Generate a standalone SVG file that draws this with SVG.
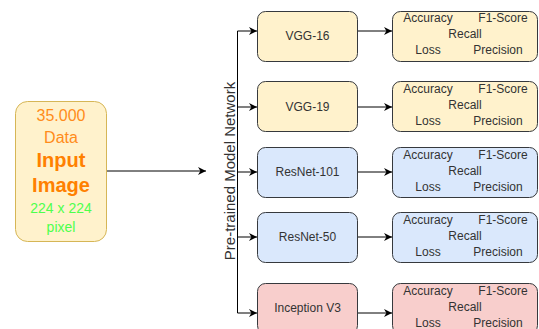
<svg xmlns="http://www.w3.org/2000/svg" width="539" height="329" viewBox="0 0 539 329">
<style>
.t{font-family:"Liberation Sans",Arial,sans-serif;fill:#333333;font-size:12px;text-anchor:middle;dominant-baseline:central}
.y{fill:#fff2cc;stroke:#d6b656;stroke-width:1}
.b{fill:#dae8fc;stroke:#36393d;stroke-width:1}
.yy{fill:#fff2cc;stroke:#36393d;stroke-width:1}
.r{fill:#f8cecc;stroke:#36393d;stroke-width:1}
.e{fill:none;stroke:#000;stroke-width:1;marker-end:url(#a)}
</style>
<defs>
<marker id="a" viewBox="0 0 10 10" refX="10" refY="5" markerWidth="8" markerHeight="8" markerUnits="userSpaceOnUse" orient="auto">
<path d="M0,0 L10,5 L0,10 L3,5 Z" fill="#000"/>
</marker>
</defs>
<g id="connectors">
<path class="e" d="M107,171 H206"/>
<path d="M237.5,31 V313" fill="none" stroke="#000"/>
<path class="e" d="M237.5,31 H257"/>
<path class="e" d="M237.5,107 H257"/>
<path class="e" d="M237.5,172 H257"/>
<path class="e" d="M237.5,237 H257"/>
<path class="e" d="M237.5,313 H257"/>
<path class="e" d="M358,31 H392"/>
<path class="e" d="M358,107 H392"/>
<path class="e" d="M358,172 H392"/>
<path class="e" d="M358,237 H392"/>
<path class="e" d="M358,313 H392"/>
</g>
<g id="input">
<rect class="y" x="15.5" y="101.5" width="91" height="140" rx="12"/>
<text x="61" y="115" style="font-family:'Liberation Sans',Arial,sans-serif;font-size:16px;fill:#ff8c1a;text-anchor:middle;dominant-baseline:central">35.000</text>
<text x="61" y="137" style="font-family:'Liberation Sans',Arial,sans-serif;font-size:16px;fill:#ff8c1a;text-anchor:middle;dominant-baseline:central">Data</text>
<text x="61" y="160" style="font-family:'Liberation Sans',Arial,sans-serif;font-size:20px;font-weight:bold;fill:#ff8000;text-anchor:middle;dominant-baseline:central">Input</text>
<text x="61" y="185" style="font-family:'Liberation Sans',Arial,sans-serif;font-size:20px;font-weight:bold;fill:#ff8000;text-anchor:middle;dominant-baseline:central">Image</text>
<text x="61" y="208" style="font-family:'Liberation Sans',Arial,sans-serif;font-size:14px;fill:#4dff4d;text-anchor:middle;dominant-baseline:central">224 x 224</text>
<text x="61" y="227" style="font-family:'Liberation Sans',Arial,sans-serif;font-size:14px;fill:#4dff4d;text-anchor:middle;dominant-baseline:central">pixel</text>
</g>
<g id="label">
<text class="t" transform="translate(229,171) rotate(-90)" style="font-size:15px">Pre-trained Model Network</text>
</g>
<g id="vgg16">
<rect class="yy" x="257.5" y="11.5" width="100" height="50" rx="8"/>
<text class="t" x="307.5" y="36">VGG-16</text>
</g>
<g id="vgg19">
<rect class="yy" x="257.5" y="81.5" width="100" height="50" rx="8"/>
<text class="t" x="307.5" y="106.5">VGG-19</text>
</g>
<g id="resnet101">
<rect class="b" x="257.5" y="147.5" width="100" height="50" rx="8"/>
<text class="t" x="307.5" y="172">ResNet-101</text>
</g>
<g id="resnet50">
<rect class="b" x="257.5" y="212.5" width="100" height="50" rx="8"/>
<text class="t" x="307.5" y="237">ResNet-50</text>
</g>
<g id="inception">
<rect class="r" x="257.5" y="283.5" width="100" height="50" rx="8"/>
<text class="t" x="307.5" y="308">Inception V3</text>
</g>
<g id="m1">
<rect class="yy" x="392.5" y="11.5" width="145" height="50" rx="8"/>
<text class="t" x="428" y="18">Accuracy</text><text class="t" x="503" y="18">F1-Score</text>
<text class="t" x="465" y="34">Recall</text>
<text class="t" x="428" y="50">Loss</text><text class="t" x="498" y="50">Precision</text>
</g>
<g id="m2">
<rect class="yy" x="392.5" y="81.5" width="145" height="50" rx="8"/>
<text class="t" x="428" y="89">Accuracy</text><text class="t" x="503" y="89">F1-Score</text>
<text class="t" x="465" y="105">Recall</text>
<text class="t" x="428" y="121">Loss</text><text class="t" x="498" y="121">Precision</text>
</g>
<g id="m3">
<rect class="b" x="392.5" y="147.5" width="145" height="50" rx="8"/>
<text class="t" x="428" y="155">Accuracy</text><text class="t" x="503" y="155">F1-Score</text>
<text class="t" x="465" y="171">Recall</text>
<text class="t" x="428" y="187">Loss</text><text class="t" x="498" y="187">Precision</text>
</g>
<g id="m4">
<rect class="b" x="392.5" y="212.5" width="145" height="50" rx="8"/>
<text class="t" x="428" y="220">Accuracy</text><text class="t" x="503" y="220">F1-Score</text>
<text class="t" x="465" y="236">Recall</text>
<text class="t" x="428" y="252">Loss</text><text class="t" x="498" y="252">Precision</text>
</g>
<g id="m5">
<rect class="r" x="392.5" y="283.5" width="145" height="50" rx="8"/>
<text class="t" x="428" y="291">Accuracy</text><text class="t" x="503" y="291">F1-Score</text>
<text class="t" x="465" y="307">Recall</text>
<text class="t" x="428" y="323">Loss</text><text class="t" x="498" y="323">Precision</text>
</g>
</svg>
